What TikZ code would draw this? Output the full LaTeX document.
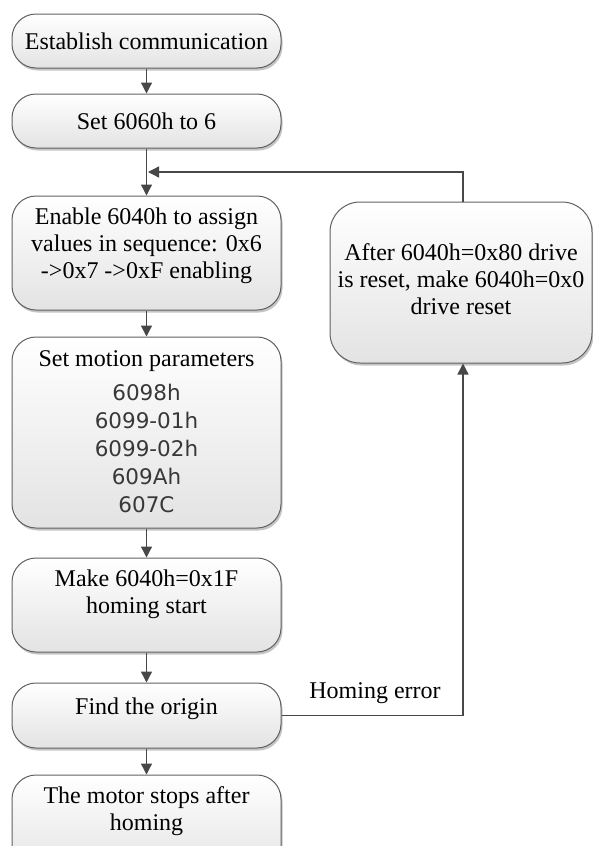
\documentclass[tikz,border=0pt]{standalone}
\usepackage{fontspec}
\setmainfont{Liberation Serif}
\newfontfamily\numfont{DejaVu Sans}
\usetikzlibrary{shadows,arrows.meta}
\tikzset{
  box/.style={draw=black!62, line width=1pt, rounded corners=24pt, top color=white, bottom color=black!11,
    drop shadow={shadow xshift=1.5pt, shadow yshift=-2.5pt, opacity=0.45}},
  txt/.style={font=\fontsize{24}{27}\selectfont, align=center, inner sep=0pt},
  nums/.style={font=\numfont\fontsize{21.5}{28}\selectfont\color{black!78}, align=center, inner sep=0pt},
  flow/.style={draw=black!72, line width=1.3pt, -{Triangle[length=11pt,width=11pt]}},
}
\begin{document}
\begin{tikzpicture}[x=1pt,y=-1pt]
\clip (0,0) rectangle (593,846);
\fill[white] (0,0) rectangle (593,846);
% boxes
\node[box, minimum width=269pt, minimum height=54pt] (b1) at (146.5,41) {};
\node[box, minimum width=269pt, minimum height=54pt] (b2) at (146.5,121) {};
\node[box, minimum width=269pt, minimum height=114pt] (b3) at (146.5,253) {};
\node[box, minimum width=269pt, minimum height=191pt] (b4) at (146.5,432.5) {};
\node[box, minimum width=269pt, minimum height=94pt] (b5) at (146.5,605) {};
\node[box, minimum width=269pt, minimum height=65pt] (b6) at (146.5,715.5) {};
\node[box, minimum width=269pt, minimum height=100pt] (b7) at (146.5,825) {};
\node[box, minimum width=262pt, minimum height=161pt, rounded corners=30pt] (r) at (461,282.5) {};
% texts
\node[txt] (t1) at (146.5,41) {Establish communication};
\node[txt] (t2) at (146.5,121) {Set 6060h to 6};
\node[txt] (t3) at (146.5,246) {Enable 6040h to assign\\values in sequence: 0x6\\->0x7 ->0xF enabling};
\node[txt] (t4) at (146.5,361) {Set motion parameters};
\node[nums] (t4n) at (146.5,448) {6098h\\6099-01h\\6099-02h\\609Ah\\607C};
\node[txt] (t5) at (146.5,594) {Make 6040h=0x1F\\homing start};
\node[txt] (t6) at (146.5,709) {Find the origin};
\node[txt] (t7) at (146.5,811) {The motor stops after\\homing};
\node[txt] (tr) at (461,279) {After 6040h=0x80 drive\\is reset, make 6040h=0x0\\drive reset};
\node[txt] (he) at (375,693) {Homing error};
% connectors
\coordinate (j) at (148,172);
\coordinate (c1) at (463,715.5);
\coordinate (c2) at (463,172);
\draw[flow] (b1.south) -- (b2.north);
\draw[flow] (b2.south) -- (b3.north);
\draw[flow] (b3.south) -- (b4.north);
\draw[flow] (b4.south) -- (b5.north);
\draw[flow] (b5.south) -- (b6.north);
\draw[flow] (b6.south) -- (b7.north);
\draw[flow] (b6.east) -- (c1) -- (r.south -| c1);
\draw[flow] (r.north -| c2) -- (c2) -- (j);
\end{tikzpicture}
\end{document}
